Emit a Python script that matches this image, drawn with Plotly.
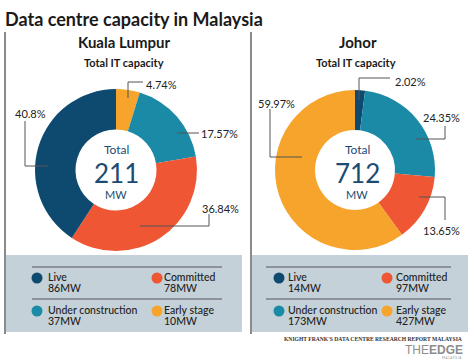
import plotly.graph_objects as go

# ---------------- data ----------------
categories = ["Live", "Committed", "Under construction", "Early stage"]
kl_mw = [86, 78, 37, 10]
kl_pct = [40.8, 36.84, 17.57, 4.74]
johor_mw = [14, 97, 173, 427]
johor_pct = [2.02, 13.65, 24.35, 59.97]
kl_total = 211
johor_total = 712
colors = ["#0e4a70", "#ee5634", "#1a8aa7", "#f6a42b"]

# clockwise order of slices from 12 o'clock
kl_order = [3, 2, 1, 0]
johor_order = [0, 2, 1, 3]

W, H = 474, 362
FONT = "Lato"
DARK = "#222222"
LINE = "#555555"
CENTER = "#1b4b72"

fig = go.Figure()

def pie_domain(cx, cy, r):
    return dict(x=[(cx - r) / W, (cx + r) / W], y=[(H - cy - r) / H, (H - cy + r) / H])

def add_pie(order, pct, cx, cy, r, name):
    fig.add_trace(go.Pie(
        labels=[categories[i] for i in order],
        values=[pct[i] for i in order],
        marker=dict(colors=[colors[i] for i in order], line=dict(width=0)),
        sort=False, direction="clockwise", rotation=0,
        hole=0.5, textinfo="none", hoverinfo="label+percent",
        domain=pie_domain(cx, cy, r), showlegend=False, name=name,
    ))

add_pie(kl_order, kl_pct, 116, 170, 81, "Kuala Lumpur")
add_pie(johor_order, johor_pct, 355, 170, 80, "Johor")

# invisible cartesian layer in pixel coordinates
fig.add_trace(go.Scatter(x=[0, W], y=[0, H], mode="markers",
                         marker=dict(opacity=0), hoverinfo="skip", showlegend=False))

shapes = []
ann = []

def text(x, y, s, size=11, color=DARK, weight=400, xanchor="center", family=FONT, height=None):
    a = dict(x=x, y=y, xref="x", yref="y", text=s, showarrow=False,
             xanchor=xanchor, yanchor="middle", borderpad=0,
             font=dict(family=family, size=size, color=color, weight=weight))
    if height:
        a["height"] = height
    ann.append(a)

def path(d, color=LINE, width=1):
    shapes.append(dict(type="path", path=d, xref="x", yref="y",
                       line=dict(color=color, width=width), layer="above"))

# panels
for x0, x1 in [(5, 242), (252, 468)]:
    shapes.append(dict(type="rect", x0=x0, x1=x1, y0=255, y1=332, xref="x", yref="y",
                       fillcolor="#c5d1d8", line=dict(width=0), layer="below"))
# vertical dividers
for x in [5, 251]:
    shapes.append(dict(type="line", x0=x, x1=x, y0=32, y1=334, xref="x", yref="y",
                       line=dict(color="#8a8a8a", width=2), layer="above"))
# legend separators
for x0, x1 in [(32, 222), (266, 451)]:
    for y in [267, 299]:
        shapes.append(dict(type="line", x0=x0, x1=x1, y0=y, y1=y, xref="x", yref="y",
                           line=dict(color="#555555", width=1), layer="above"))

# titles
text(4, 19, "Data centre capacity in Malaysia", size=18, color="#1a1a1a", weight=700, xanchor="left")
text(124, 42, "Kuala Lumpur", size=15, color="#1a1a1a", weight=700)
text(358, 42, "Johor", size=15, color="#1a1a1a", weight=700)
text(124, 62, "Total IT capacity", size=11, color="#1a1a1a", weight=700)
text(356, 62, "Total IT capacity", size=11, color="#1a1a1a", weight=700)

# centre totals
for cx, tot in [(116, kl_total), (357, johor_total)]:
    text(cx, 149, "Total", size=12, color=CENTER, height=12)
    text(cx, 173, str(tot), size=26, color=CENTER, height=22)
    text(cx, 194, "MW", size=11, color=CENTER, height=11)

def pct_label(v):
    return f"{v:g}%"

# KL leader lines + labels
path("M128,98 L128,82 L143,82")
text(145, 84, pct_label(kl_pct[3]), xanchor="left")
path("M177,133 L199,133")
text(200, 133, pct_label(kl_pct[2]), xanchor="left")
path("M140,226 L209,226 L209,214")
text(220, 208, pct_label(kl_pct[1]))
path("M25,121 L25,166 L48,166")
text(30, 113, pct_label(kl_pct[0]))

# Johor leader lines + labels
path("M359,100 L359,78 L390,78")
text(394, 81, pct_label(johor_pct[0]), xanchor="left")
path("M416,139 L445,139 L445,126")
text(441, 117, pct_label(johor_pct[2]))
path("M419,197 L445,197 L445,220")
text(441, 230, pct_label(johor_pct[1]))
path("M270,109 L270,157 L302,157")
text(276, 103, pct_label(johor_pct[3]))

# legends
def legend(mw, positions):
    for i, (dx, dy, tx) in enumerate(positions):
        shapes.append(dict(type="circle", x0=dx - 5.5, x1=dx + 5.5, y0=dy - 5.5, y1=dy + 5.5,
                           xref="x", yref="y", fillcolor=colors[i], line=dict(width=0),
                           layer="above"))
        text(tx, dy - 1, categories[i], size=10.5, xanchor="left", weight=500)
        text(tx, dy + 10, f"{mw[i]}MW", size=10.5, xanchor="left", weight=500)

legend(kl_mw, [(37, 278, 47), (157, 278, 163), (37, 311, 47), (157, 311, 163)])
legend(johor_mw, [(279, 278, 287), (387, 278, 395), (279, 311, 287), (387, 311, 395)])

# source + logo
text(463, 339, "KNIGHT FRANK'S DATA CENTRE RESEARCH REPORT MALAYSIA", size=5.6,
     color="#333333", xanchor="right", family="Liberation Serif", weight=700)
text(464, 350, "THE<b>EDGE</b>", size=12, color="#8c8c8c", xanchor="right",
     family="Liberation Sans")
text(463, 358, "M A L A Y S I A", size=3, color="#8c8c8c", xanchor="right")

fig.update_layout(
    width=W, height=H, margin=dict(l=0, r=0, t=0, b=0),
    paper_bgcolor="white", plot_bgcolor="rgba(0,0,0,0)",
    xaxis=dict(range=[0, W], visible=False, domain=[0, 1], fixedrange=True),
    yaxis=dict(range=[H, 0], visible=False, domain=[0, 1], fixedrange=True),
    shapes=shapes, annotations=ann, showlegend=False,
)

fig.write_html("out.html", config={"displayModeBar": False},
               post_script="document.body.style.margin='0';document.body.style.overflow='hidden';")
